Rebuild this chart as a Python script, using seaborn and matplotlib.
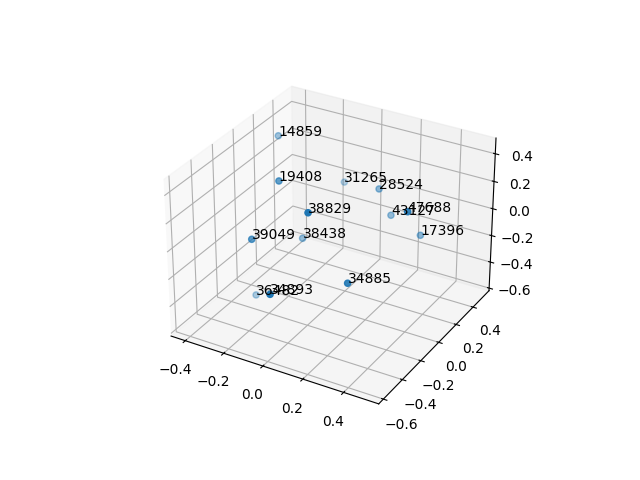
import seaborn as sns
import matplotlib
matplotlib.use('Agg')
import matplotlib.pyplot as plt

labels = ['14859', '19408', '31265', '28524', '38829', '43127', '47688',
          '17396', '39049', '38438', '36482', '34893', '34885']
x_vals = [-0.370, -0.198, -0.111, 0.113, 0.063, 0.169, 0.393,
          0.324, -0.229, -0.148, -0.304, 0.010, 0.247]
y_vals = [0.2485, -0.0834, 0.4223, 0.3264, -0.3109, 0.3401, 0.0209,
          0.3296, -0.3004, 0.0515, -0.1308, -0.5848, -0.2898]
z_vals = [0.3675, 0.2896, 0.0279, 0.1198, 0.2997, -0.0601, 0.2452,
          -0.1389, -0.0166, -0.1894, -0.5715, -0.1328, -0.1379]

xticks = [-0.4, -0.2, 0.0, 0.2, 0.4]
yticks = [-0.6, -0.4, -0.2, 0.0, 0.2, 0.4]
zticks = [-0.6, -0.4, -0.2, 0.0, 0.2, 0.4]

color = sns.color_palette('tab10')[0]

fig = plt.figure(figsize=(6.4, 4.8), dpi=100)
ax = fig.add_subplot(projection='3d')
ax.scatter(x_vals, y_vals, z_vals, color=color)
for x, y, z, label in zip(x_vals, y_vals, z_vals, labels):
    ax.text(x, y, z, label)
ax.set_xlim(-0.475, 0.569)
ax.set_ylim(-0.648, 0.595)
ax.set_zlim(-0.62, 0.512)
ax.set_xticks(xticks)
ax.set_yticks(yticks)
ax.set_zticks(zticks)
fig.savefig('out.png', dpi=100)
